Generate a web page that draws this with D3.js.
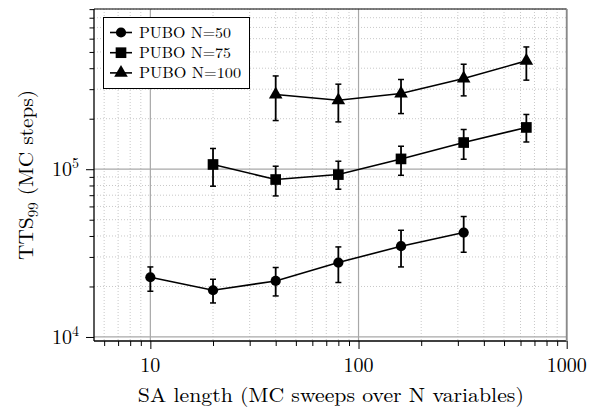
<!DOCTYPE html>
<html>
<head>
<meta charset="utf-8">
<script src="https://d3js.org/d3.v7.min.js"></script>
<style>
  body { margin: 0; background: #fff; }
  text { font-family: "Latin Modern Roman", "CMU Serif", "Liberation Serif", serif; fill: #000; }
</style>
</head>
<body>
<div id="chart"></div>
<script>
// SA length (sweeps) per point and TTS99 with error bars, one set per problem size
var x50 = [10, 20, 40, 80, 160, 320];
var y50 = [22700, 18990, 21580, 27780, 34750, 41930];
var lo50 = [18730, 15950, 17560, 21120, 26150, 31990];
var hi50 = [26150, 22080, 25950, 34420, 43250, 52240];

var x75 = [20, 40, 80, 160, 320, 640];
var y75 = [106700, 86800, 92900, 115200, 144200, 177400];
var lo75 = [79200, 69300, 76000, 92000, 114700, 145300];
var hi75 = [132900, 104200, 111600, 137100, 172500, 212000];

var x100 = [40, 80, 160, 320, 640];
var y100 = [278900, 257600, 282600, 347500, 442400];
var lo100 = [195000, 191400, 214600, 273600, 339500];
var hi100 = [359700, 321300, 342600, 422500, 535600];

var seriesNames = ["PUBO N=50", "PUBO N=75", "PUBO N=100"];
var xTicks = [10, 100, 1000];
var yTicks = [1e4, 1e5];

var width = 598, height = 407;
var plotL = 94, plotR = 566.7, plotT = 9, plotB = 341;

var x = d3.scaleLog().domain([Math.pow(10, 0.7293), 1000]).range([plotL, plotR]);
var y = d3.scaleLog().domain([Math.pow(10, 3.976), Math.pow(10, 5.955)]).range([plotB, plotT]);

var svg = d3.select("#chart").append("svg")
    .attr("width", width)
    .attr("height", height);

var series = [
  {name: seriesNames[0], xs: x50, ys: y50, lo: lo50, hi: hi50, sym: d3.symbolCircle, size: 82, tl: 92},
  {name: seriesNames[1], xs: x75, ys: y75, lo: lo75, hi: hi75, sym: d3.symbolSquare, size: 114, tl: 92},
  {name: seriesNames[2], xs: x100, ys: y100, lo: lo100, hi: hi100, sym: d3.symbolTriangle, size: 80, tl: 102}
];

// minor grid
var xMinor = [], yMinor = [];
[1, 10, 100].forEach(function(b) {
  for (var k = 2; k <= 9; k++) if (b * k > x.domain()[0]) xMinor.push(b * k);
});
[1e4, 1e5].forEach(function(b) {
  for (var k = 2; k <= 9; k++) if (b * k < y.domain()[1]) yMinor.push(b * k);
});

var grid = svg.append("g");
grid.selectAll(".xminor").data(xMinor).enter().append("line")
    .attr("x1", function(d) { return x(d); }).attr("x2", function(d) { return x(d); })
    .attr("y1", plotT).attr("y2", plotB)
    .attr("stroke", "#c8c8c8").attr("stroke-width", 1).attr("stroke-dasharray", "1,2");
grid.selectAll(".yminor").data(yMinor).enter().append("line")
    .attr("y1", function(d) { return y(d); }).attr("y2", function(d) { return y(d); })
    .attr("x1", plotL).attr("x2", plotR)
    .attr("stroke", "#c8c8c8").attr("stroke-width", 1).attr("stroke-dasharray", "1,2");
grid.selectAll(".xmajor").data(xTicks).enter().append("line")
    .attr("x1", function(d) { return x(d); }).attr("x2", function(d) { return x(d); })
    .attr("y1", plotT).attr("y2", plotB)
    .attr("stroke", "#a8a8a8").attr("stroke-width", 1.2);
grid.selectAll(".ymajor").data(yTicks).enter().append("line")
    .attr("y1", function(d) { return y(d); }).attr("y2", function(d) { return y(d); })
    .attr("x1", plotL).attr("x2", plotR)
    .attr("stroke", "#a8a8a8").attr("stroke-width", 1.2);

// axes
var xAxis = d3.axisBottom(x)
    .tickValues(xMinor.concat(xTicks))
    .tickSizeInner(0).tickSizeOuter(0)
    .tickFormat("");
var gx = svg.append("g").attr("transform", "translate(0," + plotB + ")").call(xAxis);
gx.select(".domain").remove();
gx.selectAll(".tick line")
    .attr("y2", function(d) { return xTicks.indexOf(d) >= 0 ? 8 : 5; })
    .attr("stroke", "#000").attr("stroke-width", 1);

var yAxis = d3.axisLeft(y)
    .tickValues(yMinor.concat(yTicks))
    .tickSizeInner(0).tickSizeOuter(0)
    .tickFormat("");
var gy = svg.append("g").attr("transform", "translate(" + plotL + ",0)").call(yAxis);
gy.select(".domain").remove();
gy.selectAll(".tick line")
    .attr("x2", function(d) { return yTicks.indexOf(d) >= 0 ? -8 : -4.5; })
    .attr("stroke", "#000").attr("stroke-width", 1);

// frame
svg.append("line").attr("x1", plotL).attr("x2", plotR).attr("y1", plotB).attr("y2", plotB)
    .attr("stroke", "#000").attr("stroke-width", 1.3);
svg.append("line").attr("x1", plotL).attr("x2", plotL).attr("y1", plotT).attr("y2", plotB)
    .attr("stroke", "#000").attr("stroke-width", 1.3);
svg.append("line").attr("x1", plotL).attr("x2", plotR).attr("y1", plotT).attr("y2", plotT)
    .attr("stroke", "#000").attr("stroke-width", 1.1);
svg.append("line").attr("x1", plotR).attr("x2", plotR).attr("y1", plotT).attr("y2", plotB)
    .attr("stroke", "#8a8a8a").attr("stroke-width", 1.8);

// tick labels
svg.selectAll(".xlab").data(xTicks).enter().append("text")
    .attr("x", function(d) { return x(d); })
    .attr("y", 372)
    .attr("text-anchor", "middle")
    .attr("font-size", 20)
    .text(function(d) { return d; });

var yl = svg.selectAll(".ylab").data(yTicks).enter().append("text")
    .attr("x", 52)
    .attr("y", function(d) { return y(d) + 7; })
    .attr("font-size", 20);
yl.append("tspan").text("10");
yl.append("tspan").attr("dy", -8).attr("font-size", 14)
    .text(function(d) { return Math.round(Math.log10(d)); });

// axis labels
svg.append("text")
    .attr("x", (plotL + plotR) / 2 + 0.5)
    .attr("y", 402)
    .attr("text-anchor", "middle")
    .attr("font-size", 20)
    .attr("textLength", 386)
    .attr("lengthAdjust", "spacingAndGlyphs")
    .text("SA length (MC sweeps over N variables)");

var ylab = svg.append("text")
    .attr("transform", "translate(33," + ((plotT + plotB) / 2) + ") rotate(-90)")
    .attr("text-anchor", "middle")
    .attr("font-size", 20)
    .attr("textLength", 170)
    .attr("lengthAdjust", "spacingAndGlyphs");
ylab.append("tspan").text("TTS");
ylab.append("tspan").attr("dy", 5).attr("font-size", 14).text("99");
ylab.append("tspan").attr("dy", -5).text(" (MC steps)");

// series
var line = d3.line()
    .x(function(d) { return x(d.x); })
    .y(function(d) { return y(d.y); });

series.forEach(function(s) {
  var pts = s.xs.map(function(v, i) { return {x: v, y: s.ys[i], lo: s.lo[i], hi: s.hi[i]}; });
  var g = svg.append("g");
  g.append("path").datum(pts)
      .attr("d", line)
      .attr("fill", "none").attr("stroke", "#000").attr("stroke-width", 1.6);
  var eb = g.selectAll(".eb").data(pts).enter().append("g");
  eb.append("line")
      .attr("x1", function(d) { return x(d.x); }).attr("x2", function(d) { return x(d.x); })
      .attr("y1", function(d) { return y(d.lo); }).attr("y2", function(d) { return y(d.hi); })
      .attr("stroke", "#000").attr("stroke-width", 1.8);
  ["lo", "hi"].forEach(function(k) {
    eb.append("line")
        .attr("x1", function(d) { return x(d.x) - 3; }).attr("x2", function(d) { return x(d.x) + 3; })
        .attr("y1", function(d) { return y(d[k]); }).attr("y2", function(d) { return y(d[k]); })
        .attr("stroke", "#000").attr("stroke-width", 1.5);
  });
  g.selectAll(".mk").data(pts).enter().append("path")
      .attr("d", d3.symbol().type(s.sym).size(s.size))
      .attr("transform", function(d) { return "translate(" + x(d.x) + "," + y(d.y) + ")"; })
      .attr("fill", "#000");
});

// legend
var lg = svg.append("g");
lg.append("rect")
    .attr("x", 103.5).attr("y", 17.5).attr("width", 146).attr("height", 71)
    .attr("fill", "#fff").attr("stroke", "#000").attr("stroke-width", 1);
series.forEach(function(s, i) {
  var cy = 32.5 + i * 20.2;
  lg.append("line").attr("x1", 110).attr("x2", 132).attr("y1", cy).attr("y2", cy)
      .attr("stroke", "#000").attr("stroke-width", 1.6);
  lg.append("path")
      .attr("d", d3.symbol().type(s.sym).size(s.size))
      .attr("transform", "translate(121," + cy + ")")
      .attr("fill", "#000");
  lg.append("text")
      .attr("x", 139).attr("y", cy + 5.3)
      .attr("font-size", 15)
      .attr("textLength", s.tl)
      .attr("lengthAdjust", "spacingAndGlyphs")
      .text(s.name);
});
</script>
</body>
</html>
